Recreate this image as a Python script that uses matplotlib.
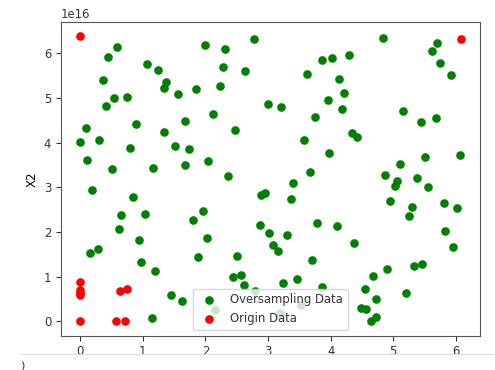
import numpy as np
import matplotlib
matplotlib.use("Agg")
import matplotlib.pyplot as plt
from matplotlib.lines import Line2D

# oversampled points (X1, X2 in units of 1e16)
over_x1 = [0.585, 0.44, 1.07, 1.24, 1.38, 1.34, 0.36, 0.54, 0.755, 0.41, 0.89, 0.10, 1.345, 0.00,
           0.30, 0.79, 0.117, 0.51, 1.165,
           2.00, 2.31, 2.78, 2.28, 2.63, 1.57, 1.85, 2.23, 2.995, 2.13, 1.675, 2.47, 1.52, 1.74,
           1.675, 2.05, 2.36,
           4.83, 3.86, 4.02, 4.30, 3.62, 4.14, 4.21, 3.95, 4.18, 3.21, 3.75, 4.34, 4.415, 3.57,
           3.98, 3.67, 3.40,
           5.70, 5.61, 5.75, 5.92, 5.15, 5.45, 5.675, 5.505, 6.06, 5.11, 4.86, 5.38,
           0.19, 0.84, 0.66, 1.03, 0.62, 0.94, 0.165, 0.29, 0.98, 1.20, 1.45, 1.15,
           2.89, 2.95, 1.96, 1.81, 2.87, 3.02, 3.08, 2.02, 1.88, 2.51, 2.44, 2.57, 2.61, 1.62,
           2.79, 2.16,
           3.36, 3.78, 4.10, 3.31, 3.16, 4.37, 3.70, 3.24, 3.47, 3.87, 4.67, 4.55, 4.72, 4.48,
           4.57, 4.64, 4.73, 3.19, 3.53,
           5.02, 5.06, 5.56, 4.95, 5.30, 5.245, 5.81, 6.02, 5.83, 5.96, 4.90, 5.33, 5.46, 5.21]
over_x2 = [6.14, 5.91, 5.76, 5.63, 5.35, 5.23, 5.40, 5.00, 5.02, 4.83, 4.41, 4.32, 4.24, 4.01,
           4.07, 3.88, 3.62, 3.41, 3.43,
           6.18, 6.10, 6.31, 5.70, 5.61, 5.08, 5.19, 5.27, 4.87, 4.64, 4.48, 4.28, 3.92, 3.85,
           3.51, 3.58, 3.26,
           6.35, 5.85, 5.90, 5.97, 5.54, 5.43, 5.12, 4.95, 4.75, 4.79, 4.58, 4.21, 4.13, 4.06,
           3.77, 3.34, 3.10,
           6.23, 6.04, 5.78, 5.52, 4.70, 4.455, 4.545, 3.69, 3.73, 3.52, 3.27, 3.21,
           2.95, 2.78, 2.39, 2.40, 2.06, 1.83, 1.525, 1.63, 1.34, 1.13, 0.59, 0.07,
           2.83, 2.88, 2.47, 2.28, 2.15, 1.97, 1.72, 1.86, 1.44, 1.47, 1.00, 1.05, 0.815, 0.45,
           0.67, 0.25,
           2.73, 2.21, 2.14, 1.94, 1.57, 1.76, 1.38, 0.87, 0.94, 0.77, 1.02, 0.72, 0.50, 0.31,
           0.28, 0.00, 0.105, 0.18, 0.37,
           3.04, 3.14, 3.00, 2.69, 2.57, 2.35, 2.65, 2.53, 2.03, 1.67, 1.17, 1.23, 1.29, 0.645]

# original points
orig_x1 = [0.00, 6.08, 0.00, 0.00, 0.00, 0.00, 0.00, 0.58, 0.72, 0.64, 0.75]
orig_x2 = [6.38, 6.33, 0.875, 0.70, 0.64, 0.60, 0.00, 0.00, 0.00, 0.67, 0.72]

scale = 1e16

plt.rcParams['font.size'] = 8.4
plt.rcParams['text.color'] = '#333333'
plt.rcParams['xtick.color'] = '#333333'
plt.rcParams['ytick.color'] = '#333333'

fig = plt.figure(figsize=(4.95, 3.7), dpi=100)
ax = fig.add_axes([0.1232, 0.0927, 0.8465, 0.8478])

ax.scatter(over_x1, np.array(over_x2) * scale, s=27, c='green', label='Oversampling Data')
ax.scatter(orig_x1, np.array(orig_x2) * scale, s=27, c='red', label='Origin Data')

for sp in ax.spines.values():
    sp.set_color('#555555')
ax.set_ylabel('X2')
ax.legend(loc='lower center')

# notebook cell separator below the plot
fig.add_artist(Line2D([20 / 495, 1], [1 - 354 / 370] * 2, color='#dddddd', lw=0.8))
fig.text(20 / 495, 1 - 370 / 370, ')', fontsize=8, va='bottom')

fig.savefig('out.png', dpi=100)
